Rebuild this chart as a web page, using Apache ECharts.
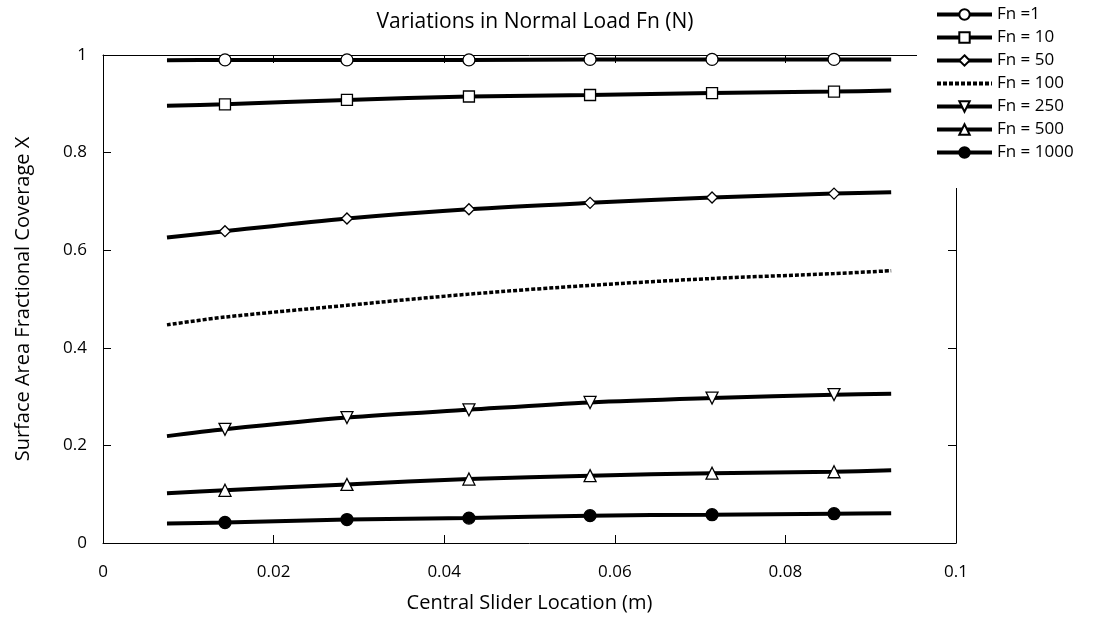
<!DOCTYPE html>
<html><head><meta charset="utf-8">
<script src="https://cdn.jsdelivr.net/npm/echarts@6/dist/echarts.min.js"></script>
<style>html,body{margin:0;padding:0;background:#fff}#c{width:1095px;height:618px}</style>
</head><body><div id="c"></div>
<script>
const xValues = [0.0075, 0.0143, 0.0286, 0.0429, 0.0571, 0.0714, 0.0857, 0.0924];
const fn1    = [0.989, 0.990, 0.990, 0.990, 0.991, 0.991, 0.991, 0.991];
const fn10   = [0.896, 0.899, 0.908, 0.915, 0.918, 0.922, 0.925, 0.927];
const fn50   = [0.626, 0.639, 0.665, 0.684, 0.697, 0.708, 0.716, 0.719];
const fn100  = [0.447, 0.463, 0.487, 0.510, 0.528, 0.542, 0.552, 0.558];
const fn250  = [0.219, 0.233, 0.257, 0.273, 0.288, 0.297, 0.304, 0.306];
const fn500  = [0.102, 0.108, 0.120, 0.131, 0.138, 0.143, 0.146, 0.149];
const fn1000 = [0.040, 0.042, 0.048, 0.051, 0.056, 0.058, 0.060, 0.061];
const seriesNames = ['Fn =1', 'Fn = 10', 'Fn = 50', 'Fn = 100', 'Fn = 250', 'Fn = 500', 'Fn = 1000'];
const seriesValues = [fn1, fn10, fn50, fn100, fn250, fn500, fn1000];
const markerIndices = [1, 2, 3, 4, 5, 6];
const xTicks = [0, 0.02, 0.04, 0.06, 0.08, 0.1];
const yTicks = [0, 0.2, 0.4, 0.6, 0.8, 1];

const FONT = 'Open Sans';
const symbols = ['circle', 'rect', 'diamond', 'none', 'path://M0,0 L10,0 L5,10 Z', 'triangle', 'circle'];
const sizes = [12, 11, 11, 0, 12, 12, 12];

const series = seriesValues.map((vals, i) => ({
  name: seriesNames[i],
  type: 'line',
  smooth: 0.3,
  symbol: symbols[i],
  symbolSize: sizes[i],
  showAllSymbol: true,
  lineStyle: { color: '#000', width: i === 3 ? 3.5 : 4, type: i === 3 ? [4, 2] : 'solid' },
  itemStyle: { color: i === 6 ? '#000' : '#fff', borderColor: '#000', borderWidth: 1.3 },
  emphasis: { disabled: true },
  z: 3,
  data: vals.map((v, k) => markerIndices.includes(k) ? [xValues[k], v] : { value: [xValues[k], v], symbol: 'none' })
}));

const axisCommon = {
  type: 'value', min: 0, max: 0.1, interval: 0.02,
  axisLine: { show: true, onZero: false, lineStyle: { color: '#000', width: 1 } },
  axisTick: { show: true, inside: true, length: 8, lineStyle: { color: '#000' } },
  splitLine: { show: false }
};
const yCommon = {
  type: 'value', min: 0, max: 1, interval: 0.2,
  axisLine: { show: true, onZero: false, lineStyle: { color: '#000', width: 1 } },
  axisTick: { show: true, inside: true, length: 8, lineStyle: { color: '#000' } },
  splitLine: { show: false }
};

const legendData = seriesNames.map((n, i) => i === 3
  ? { name: n, itemStyle: { color: 'rgba(0,0,0,0)', borderColor: 'rgba(0,0,0,0)', borderWidth: 0 } }
  : { name: n });

const chart = echarts.init(document.getElementById('c'), null, { renderer: 'canvas' });
chart.setOption({
  backgroundColor: '#fff',
  animation: false,
  textStyle: { fontFamily: FONT, color: '#000' },
  title: {
    text: 'Variations in Normal Load Fn (N)',
    left: 530, top: 7, textAlign: 'center',
    textStyle: { fontFamily: FONT, fontSize: 21, fontWeight: 'normal', color: '#000' }
  },
  legend: {
    orient: 'vertical', left: 917, top: 0,
    padding: [6, 10, 27, 18],
    backgroundColor: '#fff',
    itemWidth: 55, itemHeight: 13, itemGap: 6,
    z: 10,
    lineStyle: { width: 4 },
    textStyle: { fontFamily: FONT, fontSize: 17, color: '#000' },
    data: legendData
  },
  grid: { left: 103, right: 139, top: 55, bottom: 73, containLabel: false },
  xAxis: [
    Object.assign({}, axisCommon, {
      position: 'bottom',
      name: 'Central Slider Location (m)', nameLocation: 'middle', nameGap: 50,
      nameTextStyle: { fontFamily: FONT, fontSize: 20, color: '#000' },
      axisLabel: { fontFamily: FONT, fontSize: 17, color: '#000', margin: 21,
        formatter: v => xTicks.includes(+v.toFixed(2)) ? String(+v.toFixed(2)) : '' }
    }),
    Object.assign({}, axisCommon, { position: 'top', axisLabel: { show: false } })
  ],
  yAxis: [
    Object.assign({}, yCommon, {
      position: 'left',
      name: 'Surface Area Fractional Coverage X', nameLocation: 'middle', nameGap: 70,
      nameTextStyle: { fontFamily: FONT, fontSize: 20, color: '#000' },
      axisLabel: { fontFamily: FONT, fontSize: 17, color: '#000', margin: 16,
        formatter: v => yTicks.includes(+v.toFixed(1)) ? String(+v.toFixed(1)) : '' }
    }),
    Object.assign({}, yCommon, { position: 'right', axisLabel: { show: false } })
  ],
  series: series
});
</script></body></html>
